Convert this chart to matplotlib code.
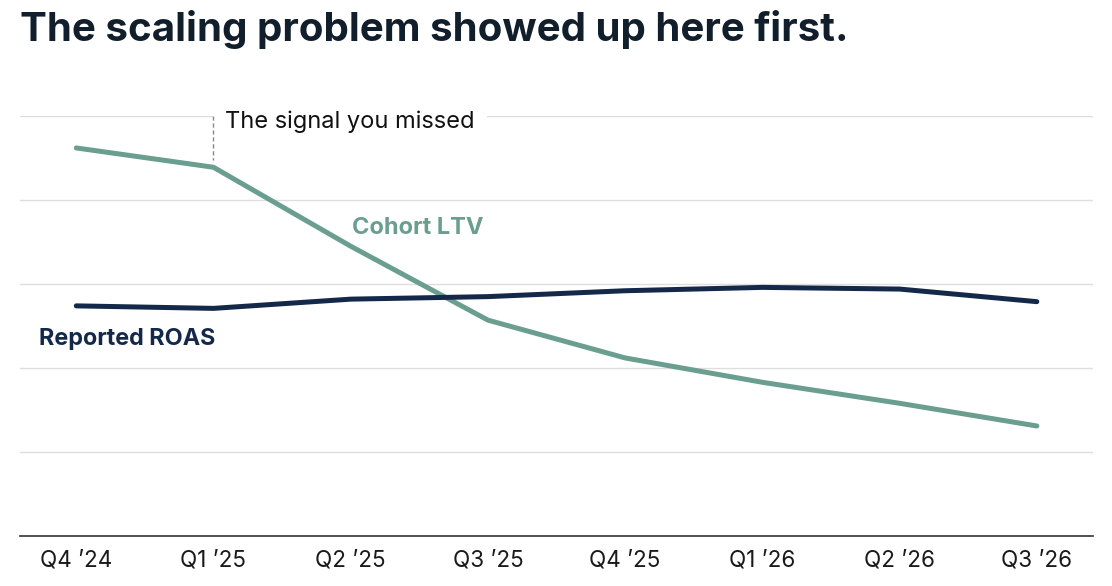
import matplotlib.pyplot as plt

quarters = ["Q4 \u201924", "Q1 \u201925", "Q2 \u201925", "Q3 \u201925",
            "Q4 \u201925", "Q1 \u201926", "Q2 \u201926", "Q3 \u201926"]
cohort_ltv = [4.62, 4.39, 3.45, 2.57, 2.12, 1.83, 1.58, 1.31]
reported_roas = [2.74, 2.71, 2.82, 2.85, 2.92, 2.96, 2.94, 2.79]

green = "#6a9e8e"
navy = "#14294a"
ink = "#111e2b"

plt.rcParams["font.family"] = ["Inter", "DejaVu Sans"]

fig = plt.figure(figsize=(11.12, 5.86), dpi=100)
ax = fig.add_axes([0.018, 0.0853, 0.965, 0.7167])

x = list(range(len(quarters)))
ax.plot(x, cohort_ltv, color=green, linewidth=3.6, solid_capstyle="round", zorder=3)
ax.plot(x, reported_roas, color=navy, linewidth=3.6, solid_capstyle="round", zorder=3)

ax.set_xlim(-0.41, 7.41)
ax.set_ylim(0, 5)
ax.set_yticks([1, 2, 3, 4, 5])
ax.set_yticklabels([])
ax.tick_params(axis="y", length=0)
ax.grid(axis="y", color="#dedede", linewidth=1)
ax.set_axisbelow(True)

ax.set_xticks(x)
ax.set_xticklabels(quarters, fontsize=16.2, color="#1a1a1a")
ax.tick_params(axis="x", length=0, pad=10)

for s in ["top", "right", "left"]:
    ax.spines[s].set_visible(False)
ax.spines["bottom"].set_color("#333333")
ax.spines["bottom"].set_linewidth(1.2)

# annotation
ax.text(1.086, 4.93, "The signal you missed", fontsize=17, color="#111111",
        ha="left", va="center", zorder=4,
        bbox=dict(facecolor="white", edgecolor="none", pad=9))
ax.plot([1, 1], [5.0, 4.48], color="#888888", linewidth=1, linestyle=(0, (3, 2)), zorder=5)

ax.text(0.37, 2.35, "Reported ROAS", fontsize=16.8, fontweight="bold", color=navy,
        ha="center", va="center")
ax.text(2.49, 3.67, "Cohort LTV", fontsize=17, fontweight="bold", color=green,
        ha="center", va="center")

fig.text(0.018, 0.95, "The scaling problem showed up here first.", fontsize=29,
         fontweight="bold", color=ink, ha="left", va="center")

fig.savefig("out.png", dpi=100, facecolor="white")
